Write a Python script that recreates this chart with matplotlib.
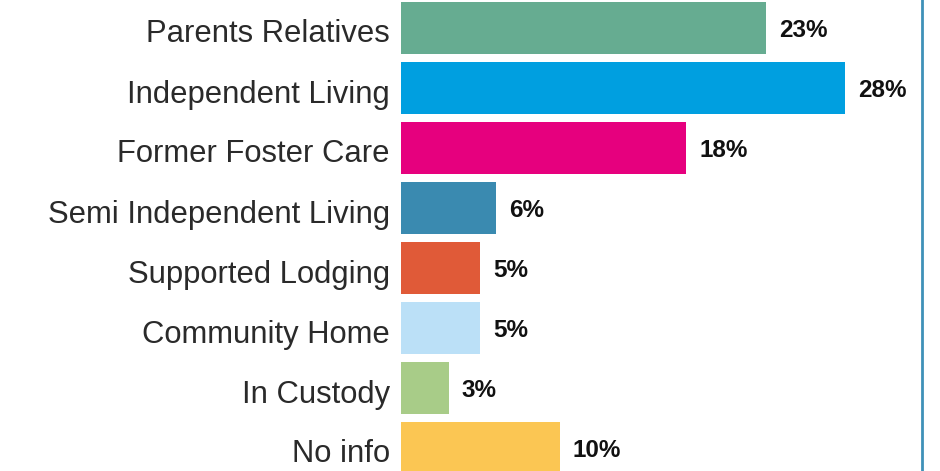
import matplotlib
matplotlib.use("Agg")
import matplotlib.pyplot as plt
from matplotlib.transforms import ScaledTranslation

categories = ["Parents Relatives", "Independent Living", "Former Foster Care",
              "Semi Independent Living", "Supported Lodging", "Community Home",
              "In Custody", "No info"]
values = [23, 28, 18, 6, 5, 5, 3, 10]
value_labels = ["23%", "28%", "18%", "6%", "5%", "5%", "3%", "10%"]
colors = ["#66ac91", "#009fe0", "#e6007e", "#3a8ab0",
          "#e05a38", "#bbe0f7", "#a8cc88", "#fbc653"]

plt.rcParams['font.family'] = ['Liberation Sans', 'DejaVu Sans']

fig = plt.figure(figsize=(9.4, 4.71), dpi=100)
ax = fig.add_axes([401/940, 0, 521.5/940, 1])

ypos = list(range(len(categories)))
ax.barh(ypos, values, height=0.867, color=colors)

for y, v, lab in zip(ypos, values, value_labels):
    ax.annotate(lab, (v, y), xytext=(9.5, -1.5), textcoords="offset points",
                va="center", ha="left", fontsize=17.5, fontweight="bold",
                color="#111111")

ax.set_xlim(0, 521.5/15.86)
ax.set_ylim(7 + 23/60, -28/60)
ax.set_yticks(ypos)
ax.set_yticklabels(categories, fontsize=22.3, color="#2a2a2a")
ax.tick_params(axis="y", length=0, pad=8)
ax.set_xticks([])

# labels sit a little below the bar centres in the original
shift = ScaledTranslation(0, -3/100, fig.dpi_scale_trans)
for t in ax.get_yticklabels():
    t.set_transform(t.get_transform() + shift)

for s in ["top", "bottom", "left"]:
    ax.spines[s].set_visible(False)
ax.spines["right"].set_color("#3f91b8")
ax.spines["right"].set_linewidth(2)

fig.savefig("out.png", dpi=100)
